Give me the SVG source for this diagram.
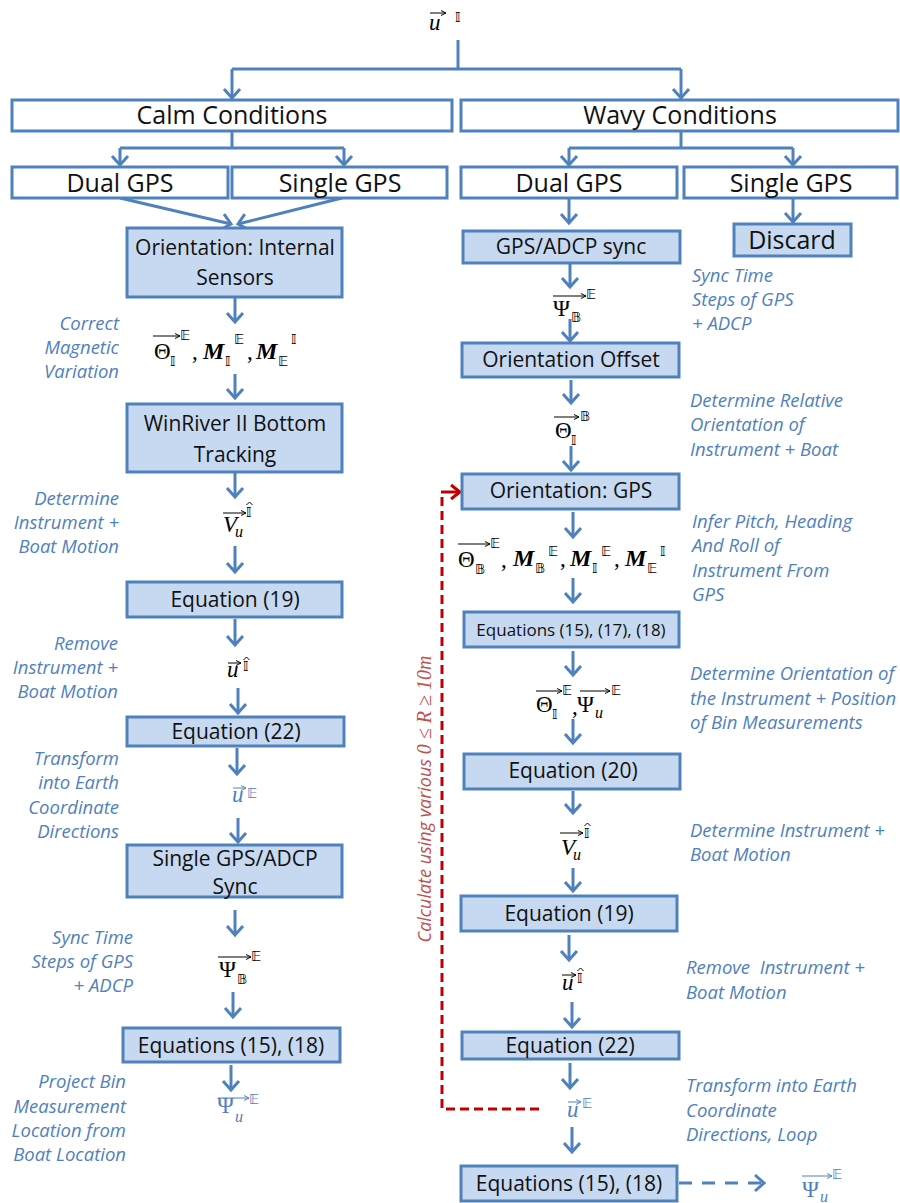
<svg xmlns="http://www.w3.org/2000/svg" width="900" height="1203" viewBox="0 0 900 1203">
<style>
.box{fill:#C6D9F1;stroke:#4F81BD;stroke-width:3}
.wbox{fill:#FFFFFF;stroke:#4F81BD;stroke-width:3}
.t{font-family:"Open Sans","Liberation Sans",sans-serif;fill:#111;text-anchor:middle;font-size:21px}
.tl{font-size:25px}
.ts{font-size:17px}
.lbl{font-family:"Open Sans","Liberation Sans",sans-serif;font-style:italic;font-size:18.5px;fill:#4F81BD}
.r{text-anchor:end}
.con{stroke:#4F81BD;stroke-width:3;fill:none}
.arr{marker-end:url(#ah)}
.m{font-family:"Liberation Serif","DejaVu Serif",serif;font-size:23px;fill:#000}
.mi{font-style:italic}
.mb{font-weight:bold;font-style:italic;font-size:24px}
.sub{font-size:16px}
.ds{font-family:"DejaVu Sans","DejaVu Serif",sans-serif;font-size:14px;fill:#000}
.bl{fill:#4F81BD}
.vec{stroke:#000;stroke-width:1;fill:none;marker-end:url(#va)}
.vecb{stroke:#4F81BD;stroke-width:1;fill:none;marker-end:url(#vab)}
.hat{stroke:#000;stroke-width:1;fill:none}
.red{stroke:#C00000;stroke-width:3;fill:none}
.redt{font-family:"Open Sans","Liberation Sans",sans-serif;font-style:italic;font-size:18px;fill:#C0504D}
</style>
<defs>
<marker id="ah" viewBox="-11 -10 14 20" refX="0" refY="0" markerWidth="14" markerHeight="20" markerUnits="userSpaceOnUse" orient="auto" overflow="visible">
<path d="M-9,-8 L0,0 L-9,8" fill="none" stroke="#4F81BD" stroke-width="3"/>
</marker>
<marker id="ahr" viewBox="-11 -10 14 20" refX="0" refY="0" markerWidth="14" markerHeight="20" markerUnits="userSpaceOnUse" orient="auto" overflow="visible">
<path d="M-9,-7 L0,0 L-9,7" fill="none" stroke="#C00000" stroke-width="3"/>
</marker>
<marker id="va" viewBox="-6 -3 7 6" refX="0" refY="0" markerWidth="7" markerHeight="6" markerUnits="userSpaceOnUse" orient="auto" overflow="visible">
<path d="M-5,-2.5 L0,0 L-5,2.5" fill="none" stroke="#000" stroke-width="1"/>
</marker>
<marker id="vab" viewBox="-6 -3 7 6" refX="0" refY="0" markerWidth="7" markerHeight="6" markerUnits="userSpaceOnUse" orient="auto" overflow="visible">
<path d="M-5,-2.5 L0,0 L-5,2.5" fill="none" stroke="#4F81BD" stroke-width="1"/>
</marker>
</defs>
<rect width="900" height="1203" fill="#FFFFFF"/>

<g id="connectors">
<path class="con" d="M458,40 V69 M232,69 H681"/>
<path class="con arr" d="M232,69 V98"/>
<path class="con arr" d="M681,69 V98"/>
<path class="con" d="M232,131 V148 M120,148 H344"/>
<path class="con arr" d="M120,148 V165"/>
<path class="con arr" d="M344,148 V165"/>
<path class="con" d="M681,131 V148 M569,148 H793"/>
<path class="con arr" d="M569,148 V165"/>
<path class="con arr" d="M793,148 V165"/>
<path class="con arr" d="M120,198 L231,224"/>
<path class="con arr" d="M342,198 L238,224"/>
<path class="con arr" d="M235,298 V322"/>
<path class="con arr" d="M235,374 V398"/>
<path class="con arr" d="M235,473 V497"/>
<path class="con arr" d="M235,546 V572"/>
<path class="con arr" d="M235,619 V645"/>
<path class="con arr" d="M238,688 V713"/>
<path class="con arr" d="M237,748 V774"/>
<path class="con arr" d="M238,818 V842"/>
<path class="con arr" d="M235,910 V935"/>
<path class="con arr" d="M233,992 V1017"/>
<path class="con arr" d="M231,1065 V1090"/>
<path class="con arr" d="M569,198 V223"/>
<path class="con arr" d="M793,198 V222"/>
<path class="con arr" d="M570,264 V287"/>
<path class="con arr" d="M570,319 V341"/>
<path class="con arr" d="M571,380 V403"/>
<path class="con arr" d="M571,446 V470"/>
<path class="con arr" d="M573,512 V537"/>
<path class="con arr" d="M573,578 V602"/>
<path class="con arr" d="M573,651 V675"/>
<path class="con arr" d="M573,719 V743"/>
<path class="con arr" d="M573,791 V813"/>
<path class="con arr" d="M573,868 V891"/>
<path class="con arr" d="M569,935 V960"/>
<path class="con arr" d="M572,1002 V1027"/>
<path class="con arr" d="M570,1063 V1088"/>
<path class="con arr" d="M572,1127 V1152"/>
<path class="con arr" d="M679,1183 H764" stroke-dasharray="13 10"/>
<path class="red" d="M539,1109 H442 V492" stroke-dasharray="9 5"/>
<path class="red" d="M441,492 H460" marker-end="url(#ahr)"/>
<text class="redt" transform="translate(431,799) rotate(-90)" text-anchor="middle">Calculate using various <tspan font-family="Liberation Serif, serif" font-size="20">0 ≤ <tspan font-style="italic">R</tspan> ≥ 10<tspan font-style="italic">m</tspan></tspan></text>
</g>

<g id="n-top">
<text class="m mi" x="429" y="30" font-size="27">u</text>
<line class="vec" x1="430" y1="13" x2="446" y2="13"/>
<text class="ds" x="455" y="22" font-size="15">𝕀</text>
</g>

<g id="n-calm"><rect class="wbox" x="12" y="100" width="440" height="31"/><text class="t tl" x="232" y="124">Calm Conditions</text></g>
<g id="n-wavy"><rect class="wbox" x="461" y="100" width="437" height="31"/><text class="t tl" x="680" y="124">Wavy Conditions</text></g>
<g id="n-dual-l"><rect class="wbox" x="12" y="167" width="216" height="31"/><text class="t tl" x="120" y="192">Dual GPS</text></g>
<g id="n-single-l"><rect class="wbox" x="232" y="167" width="215" height="31"/><text class="t tl" x="340" y="192">Single GPS</text></g>
<g id="n-dual-r"><rect class="wbox" x="461" y="167" width="216" height="31"/><text class="t tl" x="569" y="192">Dual GPS</text></g>
<g id="n-single-r"><rect class="wbox" x="684" y="167" width="213" height="31"/><text class="t tl" x="791" y="192">Single GPS</text></g>

<g id="n-orient-int"><rect class="box" x="127" y="228" width="215" height="69"/><text class="t" x="235" y="255">Orientation: Internal</text><text class="t" x="235" y="285">Sensors</text></g>
<g id="n-winriver"><rect class="box" x="127" y="404" width="215" height="68"/><text class="t" x="235" y="431">WinRiver II Bottom</text><text class="t" x="235" y="462">Tracking</text></g>
<g id="n-eq19-l"><rect class="box" x="127" y="582" width="215" height="35"/><text class="t" x="235" y="607">Equation (19)</text></g>
<g id="n-eq22-l"><rect class="box" x="127" y="717" width="217" height="29"/><text class="t" x="236" y="739">Equation (22)</text></g>
<g id="n-sync-l"><rect class="box" x="127" y="845" width="215" height="52"/><text class="t" x="235" y="866">Single GPS/ADCP</text><text class="t" x="235" y="894">Sync</text></g>
<g id="n-eq1518-l"><rect class="box" x="123" y="1028" width="217" height="34"/><text class="t" x="231" y="1053">Equations (15), (18)</text></g>

<g id="n-gpsadcp"><rect class="box" x="463" y="231" width="217" height="32"/><text class="t" x="571" y="254">GPS/ADCP sync</text></g>
<g id="n-discard"><rect class="box" x="734" y="224" width="117" height="32"/><text class="t tl" x="792" y="249">Discard</text></g>
<g id="n-offset"><rect class="box" x="462" y="343" width="217" height="34"/><text class="t" x="571" y="367">Orientation Offset</text></g>
<g id="n-orient-gps"><rect class="box" x="462" y="474" width="217" height="35"/><text class="t" x="571" y="498">Orientation: GPS</text></g>
<g id="n-eq151718"><rect class="box" x="464" y="612" width="215" height="35"/><text class="t ts" x="571" y="636">Equations (15), (17), (18)</text></g>
<g id="n-eq20"><rect class="box" x="464" y="754" width="216" height="35"/><text class="t" x="573" y="778">Equation (20)</text></g>
<g id="n-eq19-r"><rect class="box" x="461" y="896" width="216" height="35"/><text class="t" x="569" y="921">Equation (19)</text></g>
<g id="n-eq22-r"><rect class="box" x="462" y="1032" width="217" height="27"/><text class="t" x="570" y="1053">Equation (22)</text></g>
<g id="n-eq1518-r"><rect class="box" x="461" y="1166" width="216" height="35"/><text class="t" x="569" y="1191">Equations (15), (18)</text></g>

<g id="m-left-theta">
<text class="m" x="154" y="359">Θ</text>
<text class="ds" x="170" y="366">𝕀</text>
<line class="vec" x1="153" y1="336" x2="180" y2="336"/>
<text class="ds" x="180" y="340">𝔼</text>
<text class="m" x="192" y="359">,</text>
<text class="m mb" x="203" y="359">M</text>
<text class="ds" x="225" y="366">𝕀</text>
<text class="ds" x="234" y="344">𝔼</text>
<text class="m" x="247" y="359">,</text>
<text class="m mb" x="256" y="359">M</text>
<text class="ds" x="278" y="366">𝔼</text>
<text class="ds" x="291" y="344">𝕀</text>
</g>
<g id="m-left-v">
<text class="m mi" x="223" y="532">V</text>
<text class="m mi sub" x="235" y="537">u</text>
<line class="vec" x1="223" y1="513" x2="246" y2="513"/>
<text class="ds" x="246" y="517">𝕀</text>
<path class="hat" d="M246.5,505 L249.5,502 L252.5,505"/>
</g>
<g id="m-left-uI">
<text class="m mi" x="227" y="677" font-size="25">u</text>
<line class="vec" x1="228" y1="663" x2="241" y2="663"/>
<text class="ds" x="243" y="671">𝕀</text>
<path class="hat" d="M243.5,660 L246.5,657 L249.5,660"/>
</g>
<g id="m-left-uE">
<text class="m mi bl" x="232" y="802" font-size="25">u</text>
<line class="vecb" x1="233" y1="788" x2="246" y2="788"/>
<text class="ds bl" x="247" y="798">𝔼</text>
</g>
<g id="m-left-psiB">
<text class="m" x="219" y="977">Ψ</text>
<text class="ds" x="237" y="984">𝔹</text>
<line class="vec" x1="218" y1="957" x2="251" y2="957"/>
<text class="ds" x="251" y="961">𝔼</text>
</g>
<g id="m-left-psiu">
<text class="m bl" x="217" y="1113">Ψ</text>
<text class="m mi sub bl" x="235" y="1122">u</text>
<line class="vecb" x1="218" y1="1098" x2="249" y2="1098"/>
<text class="ds bl" x="249" y="1104">𝔼</text>
</g>

<g id="m-right-psiB">
<text class="m" x="553" y="316">Ψ</text>
<text class="ds" x="571" y="322">𝔹</text>
<line class="vec" x1="553" y1="296" x2="586" y2="296"/>
<text class="ds" x="586" y="299">𝔼</text>
</g>
<g id="m-right-thetaIB">
<text class="m" x="555" y="438">Θ</text>
<text class="ds" x="571" y="445">𝕀</text>
<line class="vec" x1="554" y1="417" x2="579" y2="417"/>
<text class="ds" x="580" y="421">𝔹</text>
</g>
<g id="m-right-theta4">
<text class="m" x="458" y="567">Θ</text>
<text class="ds" x="475" y="574">𝔹</text>
<line class="vec" x1="458" y1="544" x2="490" y2="544"/>
<text class="ds" x="490" y="548">𝔼</text>
<text class="m" x="501" y="567">,</text>
<text class="m mb" x="513" y="566">M</text>
<text class="ds" x="535" y="573">𝔹</text>
<text class="ds" x="548" y="556">𝔼</text>
<text class="m" x="560" y="566">,</text>
<text class="m mb" x="570" y="566">M</text>
<text class="ds" x="592" y="573">𝕀</text>
<text class="ds" x="601" y="556">𝔼</text>
<text class="m" x="614" y="566">,</text>
<text class="m mb" x="625" y="566">M</text>
<text class="ds" x="647" y="573">𝔼</text>
<text class="ds" x="660" y="556">𝕀</text>
</g>
<g id="m-right-theta-psi">
<text class="m" x="536" y="712">Θ</text>
<text class="ds" x="552" y="719">𝕀</text>
<line class="vec" x1="536" y1="691" x2="562" y2="691"/>
<text class="ds" x="562" y="695">𝔼</text>
<text class="m" x="572" y="714">,</text>
<text class="m" x="577" y="712">Ψ</text>
<text class="m mi sub" x="595" y="718">u</text>
<line class="vec" x1="580" y1="691" x2="610" y2="691"/>
<text class="ds" x="611" y="695">𝔼</text>
</g>
<g id="m-right-v">
<text class="m mi" x="561" y="855">V</text>
<text class="m mi sub" x="573" y="860">u</text>
<line class="vec" x1="560" y1="833" x2="583" y2="833"/>
<text class="ds" x="584" y="838">𝕀</text>
<path class="hat" d="M584.5,826 L587.5,823 L590.5,826"/>
</g>
<g id="m-right-uI">
<text class="m mi" x="562" y="990" font-size="25">u</text>
<line class="vec" x1="562" y1="975" x2="576" y2="975"/>
<text class="ds" x="577" y="983">𝕀</text>
<path class="hat" d="M577.5,971 L580.5,968 L583.5,971"/>
</g>
<g id="m-right-uE">
<text class="m mi bl" x="567" y="1117" font-size="25">u</text>
<line class="vecb" x1="568" y1="1102" x2="581" y2="1102"/>
<text class="ds bl" x="582" y="1108">𝔼</text>
</g>
<g id="m-right-psiu">
<text class="m bl" x="802" y="1197">Ψ</text>
<text class="m mi sub bl" x="820" y="1202">u</text>
<line class="vecb" x1="802" y1="1176" x2="832" y2="1176"/>
<text class="ds bl" x="832" y="1179">𝔼</text>
</g>

<g id="labels-left">
<text class="lbl r" x="119" y="330">Correct</text>
<text class="lbl r" x="119" y="354">Magnetic</text>
<text class="lbl r" x="119" y="378">Variation</text>
<text class="lbl r" x="119" y="505">Determine</text>
<text class="lbl r" x="119" y="529">Instrument +</text>
<text class="lbl r" x="119" y="553">Boat Motion</text>
<text class="lbl r" x="118" y="650">Remove</text>
<text class="lbl r" x="118" y="674">Instrument +</text>
<text class="lbl r" x="118" y="698">Boat Motion</text>
<text class="lbl r" x="119" y="765">Transform</text>
<text class="lbl r" x="119" y="789">into Earth</text>
<text class="lbl r" x="119" y="814">Coordinate</text>
<text class="lbl r" x="119" y="838">Directions</text>
<text class="lbl r" x="133" y="944">Sync Time</text>
<text class="lbl r" x="133" y="968">Steps of GPS</text>
<text class="lbl r" x="133" y="992">+ ADCP</text>
<text class="lbl r" x="126" y="1088">Project Bin</text>
<text class="lbl r" x="126" y="1113">Measurement</text>
<text class="lbl r" x="126" y="1137">Location from</text>
<text class="lbl r" x="126" y="1161">Boat Location</text>
</g>
<g id="labels-right">
<text class="lbl" x="692" y="282">Sync Time</text>
<text class="lbl" x="692" y="306">Steps of GPS</text>
<text class="lbl" x="692" y="330">+ ADCP</text>
<text class="lbl" x="690" y="407">Determine Relative</text>
<text class="lbl" x="690" y="431">Orientation of</text>
<text class="lbl" x="690" y="456">Instrument + Boat</text>
<text class="lbl" x="692" y="528">Infer Pitch, Heading</text>
<text class="lbl" x="692" y="552">And Roll of</text>
<text class="lbl" x="692" y="577">Instrument From</text>
<text class="lbl" x="692" y="601">GPS</text>
<text class="lbl" x="690" y="680">Determine Orientation of</text>
<text class="lbl" x="690" y="705">the Instrument + Position</text>
<text class="lbl" x="690" y="729">of Bin Measurements</text>
<text class="lbl" x="690" y="837">Determine Instrument +</text>
<text class="lbl" x="690" y="861">Boat Motion</text>
<text class="lbl" x="686" y="974" xml:space="preserve">Remove  Instrument +</text>
<text class="lbl" x="686" y="999">Boat Motion</text>
<text class="lbl" x="686" y="1092">Transform into Earth</text>
<text class="lbl" x="686" y="1117">Coordinate</text>
<text class="lbl" x="686" y="1141">Directions, Loop</text>
</g>
</svg>
